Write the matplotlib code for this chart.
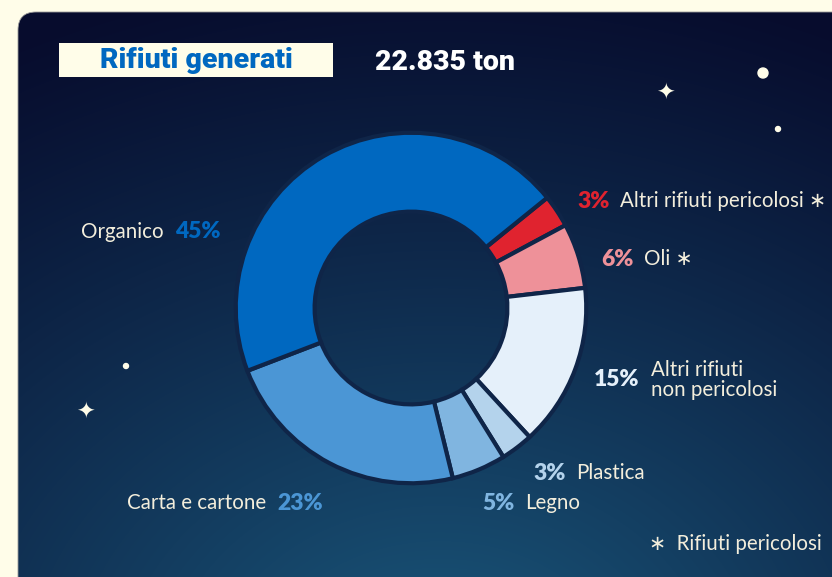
import numpy as np
import matplotlib
matplotlib.use("Agg")
import matplotlib.pyplot as plt
from matplotlib.patches import FancyBboxPatch, Rectangle, Circle

# waste composition (share of total, %)
categories = ["Altri rifiuti pericolosi", "Oli", "Altri rifiuti\nnon pericolosi",
              "Plastica", "Legno", "Carta e cartone", "Organico"]
shares = [3, 6, 15, 3, 5, 23, 45]
colors = ["#E0232F", "#EE9199", "#E5F0FA", "#B4D3EC", "#80B5E0", "#4B96D5", "#0068C0"]
hazardous = [True, True, False, False, False, False, False]
total_label = "22.835 ton"

W, H = 832, 577
cream = "#FFFDE9"
ink = "#F3EEDC"
gap = "#0F2548"

fig = plt.figure(figsize=(W / 100, H / 100), dpi=100, facecolor=cream)
bg = fig.add_axes([0, 0, 1, 1])
bg.set_xlim(0, W)
bg.set_ylim(H, 0)
bg.axis("off")

# night-sky panel: dark navy on top, lighter teal glow towards the bottom
yy, xx = np.mgrid[0:H, 0:W]
d = np.hypot((xx - 440) / 1.3, yy - 680)
t = np.clip(1 - d / 720, 0, 1) ** 1.1
top = np.array([7, 12, 45]) / 255
bottom = np.array([26, 88, 124]) / 255
img = top[None, None, :] * (1 - t[..., None]) + bottom[None, None, :] * t[..., None]
panel = FancyBboxPatch((18, 12), 900, 640, boxstyle="round,pad=0,rounding_size=18",
                       facecolor="none", edgecolor="#9a9a9a", lw=0.6)
bg.add_patch(panel)
im = bg.imshow(img, extent=(0, W, H, 0), zorder=0)
im.set_clip_path(panel)

# stars
for sx, sy, r in [(763, 73, 5), (778, 129, 2.5), (126, 366, 2.5)]:
    bg.add_patch(Circle((sx, sy), r, color=cream, zorder=2))
for sx, sy in [(665, 94), (85, 413)]:
    bg.text(sx, sy, "\u2726", color=cream, fontsize=16, ha="center", va="center",
            family="DejaVu Sans", zorder=2)

# title
title_font = ["Roboto", "DejaVu Sans"]
bg.add_patch(Rectangle((59, 43), 274, 34, facecolor=cream, edgecolor="none", zorder=2))
bg.text(196, 61, "Rifiuti generati", color="#0068C0", fontsize=20.5, fontweight="black",
        family=title_font, ha="center", va="center", zorder=3)
bg.text(375, 62, total_label, color="white", fontsize=20.5, fontweight="black",
        family=title_font, ha="left", va="center", zorder=3)

# donut
cx, cy, R = 411, 308, 177
ax = fig.add_axes([(cx - R) / W, (H - cy - R) / H, 2 * R / W, 2 * R / H])
ax.pie(shares, colors=colors, startangle=39, counterclock=False, radius=1,
       wedgeprops=dict(width=0.45, edgecolor=gap, linewidth=3))
ax.set_xlim(-1.01, 1.01)
ax.set_ylim(-1.01, 1.01)
ax.set_aspect("equal")
ax.axis("off")

lab_font = ["Lato", "DejaVu Sans"]
fs = 14.8
fs_pct = 16.5
star = "\u2217"

def label(x, y, pct_text, pct_color, name, pct_first=True, gap_px=8):
    if pct_first:
        p = bg.text(x, y, pct_text, color=pct_color, fontsize=fs_pct, fontweight="heavy",
                    family=lab_font, ha="left", va="center", zorder=3)
        bg.annotate(name, xy=(1, 0.5), xycoords=p, xytext=(gap_px, 0),
                    textcoords="offset points", color=ink, fontsize=fs,
                    family=lab_font, ha="left", va="center", linespacing=0.95)
    else:
        n = bg.text(x, y, name, color=ink, fontsize=fs,
                    family=lab_font, ha="left", va="center", zorder=3)
        bg.annotate(pct_text, xy=(1, 0.5), xycoords=n, xytext=(gap_px, 0),
                    textcoords="offset points", color=pct_color, fontsize=fs_pct,
                    fontweight="heavy", family=lab_font, ha="left", va="center")

positions = [(577, 201, True), (601, 259, True), (594, 380, True), (533, 473, True),
             (482, 503, True), (127, 503, False), (81, 232, False)]
for cat, val, col, haz, (lx, ly, pf) in zip(categories, shares, colors, hazardous, positions):
    name = cat + (" " + star if haz else "")
    label(lx, ly, f"{val}%", col, name, pct_first=pf)

bg.text(822, 544, star + "  Rifiuti pericolosi", color=ink, fontsize=fs,
        family=lab_font, ha="right", va="center")

fig.savefig("out.png", dpi=100, facecolor=cream)
